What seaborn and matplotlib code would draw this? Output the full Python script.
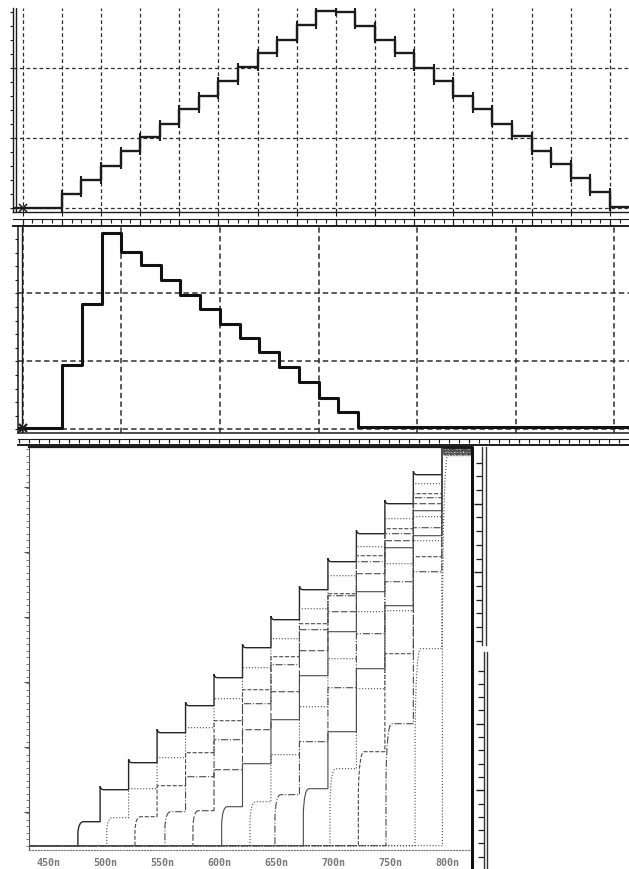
import matplotlib
matplotlib.use("Agg")
import numpy as np
import matplotlib.pyplot as plt
from matplotlib.path import Path
from matplotlib.patches import PathPatch
from matplotlib.lines import Line2D
from matplotlib.ticker import MultipleLocator
import seaborn as sns

sns.set_theme(style="white")
plt.rcParams["font.family"] = ["DejaVu Sans"]

# ---------------- data ----------------
# Upper trace: staircase counting up then down (screen divisions)
ramp_times = [-0.25, 1.0, 1.5, 2.0, 2.5, 3.0, 3.5, 4.0, 4.5, 5.0, 5.5, 6.0, 6.5,
              7.0, 7.5, 8.0, 8.5, 9.0, 9.5, 10.0, 10.5, 11.0, 11.5, 12.0, 12.5,
              13.0, 13.5, 14.0, 14.5, 15.0, 15.5]
ramp_levels = [0.0, 0.21, 0.40, 0.61, 0.82, 1.02, 1.20, 1.42, 1.61, 1.82, 2.02,
               2.22, 2.41, 2.62, 2.82, 2.80, 2.61, 2.41, 2.22, 2.01, 1.82, 1.61,
               1.42, 1.21, 1.03, 0.82, 0.63, 0.43, 0.23, 0.02, 0.02]

# Middle trace: fast rise, staircase decay (screen divisions)
pulse_times = [-0.05, 0.4, 0.6, 0.8, 1.0, 1.2, 1.4, 1.6, 1.8, 2.0, 2.2, 2.4,
               2.6, 2.8, 3.0, 3.2, 3.4, 6.15]
pulse_levels = [0.015, 0.94, 1.84, 2.89, 2.61, 2.42, 2.20, 1.97, 1.77, 1.55,
                1.34, 1.13, 0.91, 0.69, 0.46, 0.26, 0.04, 0.04]

# Lower plot: family of staircases converging at full scale (time in ns)
fam_starts = [476.0, 501.3, 526.1, 552.4, 577.0, 602.2, 627.1, 649.0, 673.9,
              697.3, 722.2, 746.5, 772.0, 796.0]
fam_edges = [495.5, 520.5, 545.5, 570.5, 595.5, 620.5, 645.5, 670.5, 695.5,
             720.5, 745.5, 770.5, 795.5]
stair_0 = [24, 56, 83, 113, 140, 168, 198, 226, 256, 284, 312, 342, 371, 397]
stair_1 = [28, 57, 88, 118, 147, 178, 207, 237, 270, 299, 327, 362, 396]
stair_2 = [29, 60, 93, 125, 156, 189, 222, 252, 290, 317, 352, 395]
stair_3 = [34, 69, 106, 142, 181, 216, 250, 284, 312, 348, 396]
stair_4 = [35, 76, 116, 154, 195, 234, 272, 305, 342, 394]
stair_5 = [39, 82, 126, 170, 214, 254, 298, 335, 395]
stair_6 = [44, 91, 139, 187, 234, 282, 329, 393]
stair_7 = [51, 104, 158, 212, 264, 318, 394]
stair_8 = [57, 114, 177, 240, 310, 392]
stair_9 = [77, 157, 235, 305, 393]
stair_10 = [94, 192, 289, 391]
stair_11 = [122, 274, 392]
stair_12 = [197, 390]
stair_13 = [391]
stair_levels = [stair_0, stair_1, stair_2, stair_3, stair_4, stair_5, stair_6,
                stair_7, stair_8, stair_9, stair_10, stair_11, stair_12, stair_13]
stair_styles = ["-", ":", "--", "-.", (0, (6, 2)), "-", ":", "-.", "-", ":",
                "--", "-.", ":", ":"]

time_ticks = [450, 500, 550, 600, 650, 700, 750, 800]
time_labels = ["450n", "500n", "550n", "600n", "650n", "700n", "750n", "800n"]

# ---------------- layout helpers ----------------
W, H = 629, 869


def frame(x0, y0, x1, y1):
    return [x0 / W, 1 - y1 / H, (x1 - x0) / W, (y1 - y0) / H]


fig = plt.figure(figsize=(W / 100, H / 100), dpi=100)
fig.patch.set_facecolor("white")
INK = "#1c1c1c"
GRID = "#2e2e2e"
NO_LABELS = dict(labelbottom=False, labelleft=False, labeltop=False,
                 labelright=False)


def bare(ax):
    ax.set_facecolor("none")
    ax.tick_params(**NO_LABELS)
    for s in ax.spines.values():
        s.set_visible(False)


def ruler(box, xlim, minor, major, h_major):
    ax = fig.add_axes(frame(*box))
    bare(ax)
    ax.set_xlim(*xlim)
    ax.set_ylim(0, 1)
    ax.set_yticks([])
    ax.xaxis.set_ticks_position("top")
    ax.xaxis.set_minor_locator(MultipleLocator(minor))
    ax.xaxis.set_major_locator(MultipleLocator(major))
    ax.tick_params(axis="x", which="minor", direction="in", length=3.0,
                   width=0.8, color=INK)
    ax.tick_params(axis="x", which="major", direction="in", length=h_major,
                   width=0.9, color=INK)
    ax.tick_params(axis="x", which="both", **NO_LABELS)
    ax.spines["top"].set_visible(True)
    ax.spines["top"].set_linewidth(0.8)
    ax.spines["top"].set_color(INK)
    ax.spines["bottom"].set_visible(True)
    ax.spines["bottom"].set_linewidth(1.4)
    ax.spines["bottom"].set_color(INK)
    return ax


# ---------------- upper trace ----------------
axA = fig.add_axes(frame(13, 8, 629, 212))
bare(axA)
sns.lineplot(x=ramp_times, y=ramp_levels, ax=axA, drawstyle="steps-post",
             color=INK, linewidth=1.7, estimator=None, sort=False, legend=False)
for t, a, b in zip(ramp_times[1:-1], ramp_levels[:-2], ramp_levels[1:-1]):
    axA.vlines(t, min(a, b) - 0.055, max(a, b) + 0.055, color=INK, lw=1.5)
axA.set_xlim(-0.248, 15.487)
axA.set_ylim(-0.053, 2.861)
axA.set_xticks(range(16))
axA.set_yticks([0, 1, 2])
axA.yaxis.set_minor_locator(MultipleLocator(0.2))
axA.grid(True, which="major", color=GRID, ls=(0, (3, 2.2)), lw=0.9)
axA.tick_params(axis="y", which="both", direction="out", length=2.5,
                width=0.8, color=INK, left=True)
axA.tick_params(axis="x", which="major", direction="out", length=3,
                width=0.8, color=INK, bottom=True)
axA.tick_params(axis="both", which="both", **NO_LABELS)
for side in ("left", "bottom"):
    axA.spines[side].set_visible(True)
    axA.spines[side].set_color(INK)
    axA.spines[side].set_linewidth(1.0)
axA.axvline(-0.179, color=INK, lw=1.0)
axA.plot([0], [0], marker="x", ms=6, mew=1.1, color=INK, clip_on=False)

ruler((13, 219, 629, 226), (-0.248, 15.487), 0.25, 1, 5)

# ---------------- middle trace ----------------
axB = fig.add_axes(frame(18, 226, 629, 433))
bare(axB)
sns.lineplot(x=pulse_times, y=pulse_levels, ax=axB, drawstyle="steps-post",
             color="#111111", linewidth=2.2, estimator=None, sort=False,
             legend=False)
axB.set_xlim(-0.048, 6.149)
axB.set_ylim(-0.054, 2.99)
axB.set_xticks(range(7))
axB.set_yticks([0, 1, 2])
axB.yaxis.set_minor_locator(MultipleLocator(0.2))
axB.grid(True, which="major", color=GRID, ls=(0, (3.5, 2.2)), lw=1.1)
axB.tick_params(axis="y", which="both", direction="out", length=2.5,
                width=0.8, color=INK, left=True)
axB.tick_params(axis="x", which="major", length=0)
axB.tick_params(axis="both", which="both", **NO_LABELS)
for side in ("left", "bottom"):
    axB.spines[side].set_visible(True)
    axB.spines[side].set_color(INK)
    axB.spines[side].set_linewidth(1.1)
axB.axvline(-0.012, color=INK, lw=1.0)
axB.plot([0], [0.02], marker="x", ms=6, mew=1.6, color=INK, clip_on=False)

ruler((18, 439, 629, 445.5), (-0.13, 60.97), 1, 5, 3.0)

# ---------------- lower plot: staircase family ----------------
axC = fig.add_axes(frame(29, 447.5, 472, 850))
bare(axC)
x_lo, x_hi = 433.05, 822.0
axC.set_xlim(x_lo, x_hi)
axC.set_ylim(-4.3, 398.2)

for k, (start, levels) in enumerate(zip(fam_starts, stair_levels)):
    first = levels[0]
    verts = [(x_lo, 0.0), (start, 0.0), (start, 0.55 * first),
             (start + 0.6, first), (start + 5.0, first)]
    codes = [Path.MOVETO, Path.LINETO, Path.LINETO, Path.CURVE3, Path.CURVE3]
    spike = 3.5 if k == 0 else 0.0
    prev = first
    for e, lv in zip(fam_edges[k:], levels[1:]):
        verts += [(e, prev), (e, lv + spike)]
        codes += [Path.LINETO, Path.LINETO]
        if spike:
            verts += [(e + 0.5, lv), (e + 3.0, lv)]
            codes += [Path.CURVE3, Path.CURVE3]
        prev = lv
    verts.append((x_hi, prev))
    codes.append(Path.LINETO)
    color = "#262626" if k == 0 else "#4a4a4a"
    lw = 1.0 if k == 0 else 0.8
    axC.add_patch(PathPatch(Path(verts, codes), fill=False, edgecolor=color,
                            lw=lw, ls=stair_styles[k], capstyle="butt"))

axC.set_xticks(time_ticks)
axC.set_xticklabels(time_labels)
axC.xaxis.set_minor_locator(MultipleLocator(5))
axC.tick_params(axis="x", which="major", direction="out", length=3, width=0.8,
                color="#666666", labelbottom=True, pad=3.0,
                labelsize=7.2, labelcolor="#7a7a7a")
axC.tick_params(axis="x", which="minor", direction="out", length=2, width=0.7,
                color="#777777")
for lab in axC.get_xticklabels():
    lab.set_fontfamily("DejaVu Sans Mono")
    lab.set_fontweight("bold")
axC.set_yticks([34, 99, 164, 229, 294, 359])
axC.yaxis.set_minor_locator(MultipleLocator(6.5))
axC.tick_params(axis="y", which="major", direction="out", length=3.5,
                width=0.8, color="#555555", left=True)
axC.tick_params(axis="y", which="minor", direction="out", length=2.2,
                width=0.6, color="#666666", left=True)
axC.spines["left"].set_visible(True)
axC.spines["left"].set_color("#555555")
axC.spines["left"].set_linewidth(0.8)
axC.spines["bottom"].set_visible(True)
axC.spines["bottom"].set_color("#777777")
axC.spines["bottom"].set_linewidth(0.8)
axC.spines["bottom"].set_linestyle(":")
axC.spines["top"].set_visible(True)
axC.spines["top"].set_color(INK)
axC.spines["top"].set_linewidth(1.6)

# heavy right border of the lower plot
fig.add_artist(Line2D([472 / W, 472 / W], [1 - 447 / H, 0.0],
                      transform=fig.transFigure, color="#111111", lw=2.2))


# narrow scales at the right of the lower plot
def side_scale(box, top, minor_pos, major_pos):
    ax = fig.add_axes(frame(*box))
    bare(ax)
    ax.set_xlim(0, 1)
    ax.set_ylim(0, top)
    ax.set_xticks([])
    ax.set_yticks(major_pos)
    ax.set_yticks(minor_pos, minor=True)
    ax.tick_params(axis="y", which="minor", direction="out", length=4.5,
                   width=0.9, color=INK, left=True)
    ax.tick_params(axis="y", which="major", direction="out", length=6,
                   width=1.0, color=INK, left=True)
    ax.tick_params(axis="both", which="both", **NO_LABELS)
    for side in ("left", "right"):
        ax.spines[side].set_visible(True)
        ax.spines[side].set_color("#333333")
        ax.spines[side].set_linewidth(1.0)
    return ax


scale_a_minor = [4.3, 18.0, 31.7, 45.4, 59.1, 86.5, 100.2, 113.9, 127.6,
                 155.0, 168.7, 182.4]
scale_a_major = [72.8, 141.3]
side_scale((481.7, 447, 485.5, 645), 198, scale_a_minor, scale_a_major)

scale_b_minor = [12.3, 25.6, 38.9, 52.2, 65.5, 92.1, 105.4, 118.7, 132.0,
                 158.6, 171.9, 185.2, 198.5]
scale_b_major = [78.8, 145.3]
side_scale((483.5, 652, 487, 869), 217, scale_b_minor, scale_b_major)

fig.savefig("out.png", dpi=100, facecolor="white")
